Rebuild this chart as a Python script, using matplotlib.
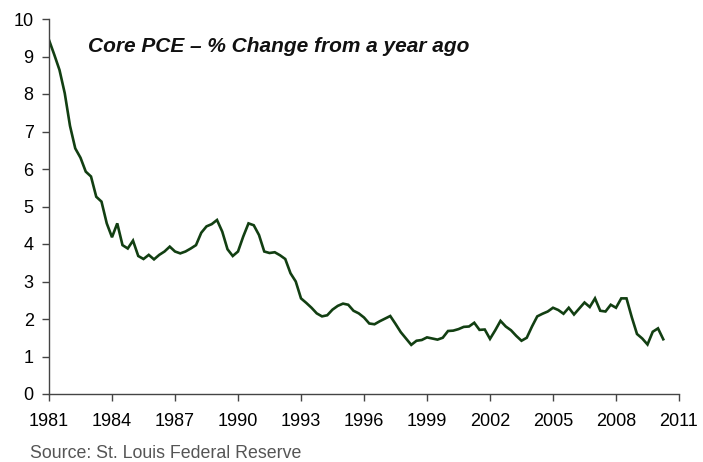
import numpy as np
import matplotlib
matplotlib.use("Agg")
import matplotlib.pyplot as plt

# quarterly core PCE, % change from a year ago
start_year = 1981
pce_yoy = [
    9.44, 9.05, 8.64, 8.02,   # 1981
    7.15, 6.55, 6.30, 5.93,   # 1982
    5.80, 5.26, 5.13, 4.55,   # 1983
    4.18, 4.55, 3.97, 3.88,   # 1984
    4.09, 3.68, 3.60, 3.71,   # 1985
    3.59, 3.71, 3.80, 3.93,   # 1986
    3.80, 3.75, 3.80, 3.88,   # 1987
    3.97, 4.30, 4.47, 4.53,   # 1988
    4.64, 4.33, 3.86, 3.68,   # 1989
    3.80, 4.20, 4.55, 4.50,   # 1990
    4.24, 3.80, 3.76, 3.78,   # 1991
    3.70, 3.60, 3.22, 3.00,   # 1992
    2.55, 2.43, 2.30, 2.15,   # 1993
    2.07, 2.10, 2.25, 2.35,   # 1994
    2.41, 2.38, 2.22, 2.15,   # 1995
    2.04, 1.88, 1.86, 1.94,   # 1996
    2.01, 2.08, 1.87, 1.65,   # 1997
    1.48, 1.31, 1.42, 1.44,   # 1998
    1.51, 1.48, 1.45, 1.50,   # 1999
    1.68, 1.69, 1.73, 1.79,   # 2000
    1.80, 1.90, 1.71, 1.72,   # 2001
    1.47, 1.70, 1.95, 1.80,   # 2002
    1.70, 1.55, 1.42, 1.50,   # 2003
    1.80, 2.07, 2.14, 2.20,   # 2004
    2.30, 2.24, 2.14, 2.30,   # 2005
    2.12, 2.28, 2.44, 2.32,   # 2006
    2.55, 2.22, 2.20, 2.38,   # 2007
    2.30, 2.55, 2.55, 2.05,   # 2008
    1.60, 1.48, 1.32, 1.66,   # 2009
    1.75, 1.46,               # 2010
]
year_ticks = list(range(1981, 2012, 3))
y_ticks = list(range(0, 11))

quarters = start_year + np.arange(len(pce_yoy)) * 0.25

plt.rcParams["font.family"] = ["Liberation Sans", "DejaVu Sans"]

fig = plt.figure(figsize=(7.03, 4.62), dpi=100)
ax = fig.add_axes([49 / 703, 1 - 394 / 462, 630 / 703, 375 / 462])

ax.plot(quarters, pce_yoy, color="#123f12", lw=1.9, solid_joinstyle="miter")

ax.set_xlim(1981, 2011)
ax.set_ylim(0, 10)
ax.set_xticks(year_ticks)
ax.set_yticks(y_ticks)
ax.tick_params(axis="both", direction="out", length=5, width=1, color="#444444",
               labelsize=13, labelcolor="#000000")
ax.tick_params(axis="x", pad=9)
ax.tick_params(axis="y", pad=6)
for side in ("top", "right"):
    ax.spines[side].set_visible(False)
for side in ("left", "bottom"):
    ax.spines[side].set_color("#444444")
    ax.spines[side].set_linewidth(1)

ax.text(0.062, 0.928, "Core PCE \u2013 % Change from a year ago", transform=ax.transAxes,
        fontsize=15, style="italic", fontweight="bold", color="#111111", va="center")

fig.text(30 / 703, 1 - 454 / 462, "Source: St. Louis Federal Reserve", fontsize=12.8,
         color="#555555", va="center")

fig.savefig("out.png", dpi=100)
